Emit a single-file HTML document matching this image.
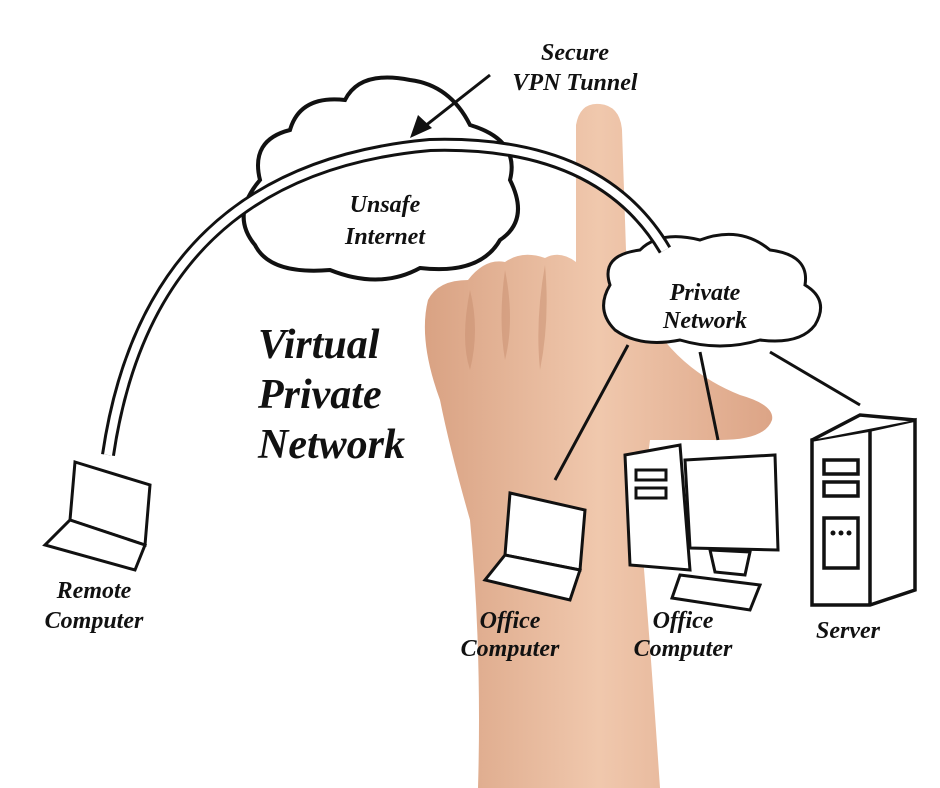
<!DOCTYPE html>
<html><head><style>
html,body{margin:0;padding:0;background:#fff;}
svg{display:block;}
text{font-family:"Liberation Serif",serif;font-style:italic;fill:#111;}
</style></head><body>
<svg width="940" height="788" viewBox="0 0 940 788" xmlns="http://www.w3.org/2000/svg">
<defs>
<linearGradient id="sk" x1="0" x2="1" y1="0" y2="0">
<stop offset="0" stop-color="#d9a283"/><stop offset="0.5" stop-color="#f0c8ad"/><stop offset="1" stop-color="#dca486"/>
</linearGradient>
</defs>
<!-- hand -->
<g fill="url(#sk)">
<path d="M576,125 Q580,102 600,104 Q620,106 622,130 L626,250 Q640,300 660,335 Q690,375 740,395 Q775,405 772,420 Q765,440 720,440 Q680,440 650,440 L640,520 Q650,640 660,788 L478,788 Q482,650 470,520 Q450,450 440,400 Q418,340 428,300 Q438,280 468,280 Q485,258 505,262 Q522,250 545,258 Q560,250 576,262 Z"/>
</g>
<g fill="#c98f70" opacity="0.5">
<path d="M470,290 Q480,330 470,370 Q460,340 470,290Z"/>
<path d="M505,270 Q515,320 505,360 Q498,320 505,270Z"/>
<path d="M545,265 Q550,320 540,370 Q535,320 545,265Z"/>
</g>
<!-- Unsafe Internet cloud -->
<path d="M260,180 Q250,140 290,130 Q300,95 345,100 Q360,70 410,80 Q450,85 470,125 Q520,140 510,180 Q530,220 500,240 Q480,275 420,268 Q380,290 330,270 Q270,275 255,245 Q230,215 260,180Z" fill="#fff" stroke="#111" stroke-width="4"/>
<!-- Private network cloud -->
<path d="M610,285 Q600,255 640,250 Q660,230 700,240 Q740,225 770,250 Q810,255 805,285 Q830,300 815,325 Q800,345 760,340 Q720,352 680,340 Q640,348 615,330 Q595,310 610,285Z" fill="#fff" stroke="#111" stroke-width="3"/>
<!-- tunnel -->
<path d="M108,455 Q150,170 430,145 Q600,140 665,250" fill="none" stroke="#111" stroke-width="14"/>
<path d="M108,455 Q150,170 430,145 Q600,140 665,250" fill="none" stroke="#fff" stroke-width="8"/>
<!-- arrow -->
<line x1="490" y1="75" x2="420" y2="130" stroke="#111" stroke-width="3"/>
<path d="M410,138 L418,115 L432,128Z" fill="#111"/>
<!-- lines from private network -->
<g stroke="#111" stroke-width="3">
<line x1="628" y1="345" x2="555" y2="480"/>
<line x1="700" y1="352" x2="718" y2="440"/>
<line x1="770" y1="352" x2="860" y2="405"/>
</g>
<!-- remote laptop -->
<g fill="#fff" stroke="#111" stroke-width="3">
<path d="M75,462 L150,485 L145,545 L70,520Z"/>
<path d="M70,520 L145,545 L135,570 L45,545Z"/>
</g>
<!-- office laptop -->
<g fill="#fff" stroke="#111" stroke-width="3">
<path d="M510,493 L585,510 L580,570 L505,555Z"/>
<path d="M505,555 L580,570 L570,600 L485,580Z"/>
</g>
<!-- desktop -->
<g fill="#fff" stroke="#111" stroke-width="3">
<path d="M625,455 L680,445 L690,570 L630,565Z"/>
<rect x="636" y="470" width="30" height="10"/><rect x="636" y="488" width="30" height="10"/>
<path d="M685,460 L775,455 L778,550 L690,548Z"/>
<path d="M710,550 L750,552 L745,575 L715,572Z"/>
<path d="M680,575 L760,585 L750,610 L672,598Z"/>
</g>
<!-- server -->
<g fill="#fff" stroke="#111" stroke-width="3.5">
<path d="M812,440 L870,430 L915,420 L915,590 L870,605 L812,605Z"/>
<line x1="870" y1="430" x2="870" y2="605"/>
<path d="M812,440 L860,415 L915,420"/>
<rect x="824" y="460" width="34" height="14"/><rect x="824" y="482" width="34" height="14"/>
<rect x="824" y="518" width="34" height="50"/>
</g>
<g fill="#111"><circle cx="833" cy="533" r="2.5"/><circle cx="841" cy="533" r="2.5"/><circle cx="849" cy="533" r="2.5"/></g>
<!-- labels -->
<g font-weight="bold">
<text x="575" y="60" font-size="24" text-anchor="middle">Secure</text>
<text x="575" y="90" font-size="24" text-anchor="middle">VPN Tunnel</text>
<text x="385" y="212" font-size="24" text-anchor="middle">Unsafe</text>
<text x="385" y="244" font-size="24" text-anchor="middle">Internet</text>
<text x="705" y="300" font-size="24" text-anchor="middle">Private</text>
<text x="705" y="328" font-size="24" text-anchor="middle">Network</text>
<text x="258" y="358" font-size="42">Virtual</text>
<text x="258" y="408" font-size="42">Private</text>
<text x="258" y="458" font-size="42">Network</text>
<text x="94" y="598" font-size="24" text-anchor="middle">Remote</text>
<text x="94" y="628" font-size="24" text-anchor="middle">Computer</text>
<text x="510" y="628" font-size="24" text-anchor="middle">Office</text>
<text x="510" y="656" font-size="24" text-anchor="middle">Computer</text>
<text x="683" y="628" font-size="24" text-anchor="middle">Office</text>
<text x="683" y="656" font-size="24" text-anchor="middle">Computer</text>
<text x="848" y="638" font-size="24" text-anchor="middle">Server</text>
</g>
</svg>
</body></html>
